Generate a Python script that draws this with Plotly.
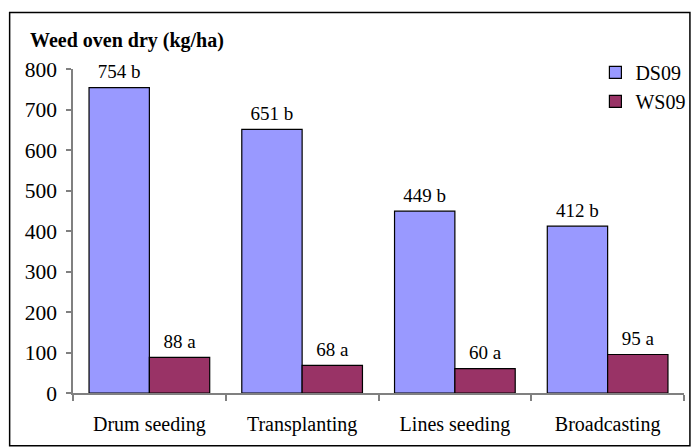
import plotly.graph_objects as go

# Chart data.
methods = ['Drum seeding', 'Transplanting', 'Lines seeding', 'Broadcasting']
ds09 = [754, 651, 449, 412]
ws09 = [88, 68, 60, 95]
ds09_letters = ['b', 'b', 'b', 'b']
ws09_letters = ['a', 'a', 'a', 'a']
y_ticks = [0, 100, 200, 300, 400, 500, 600, 700, 800]

font_family = 'Liberation Serif'

# Define the figure layout.
layout = dict(
    width=697,
    height=447,
    plot_bgcolor='white',
    paper_bgcolor='white',
    margin=dict(t=69, r=7, b=54, l=73, pad=0),
    font=dict(family=font_family, size=20, color='black'),
    barmode='group',
    bargap=0.21,
    bargroupgap=0,
    scattermode='group',
    showlegend=True,
    hovermode=False,
    legend=dict(
        x=0.855,
        y=1.05,
        xanchor='left',
        yanchor='top',
        traceorder='grouped',
        tracegroupgap=0,
        bgcolor='rgba(0,0,0,0)',
        font=dict(family=font_family, size=20, color='black'),
    ),
    xaxis=dict(
        type='category',
        fixedrange=True,
        showline=True,
        linecolor='#808080',
        linewidth=1.5,
        ticks='outside',
        tickson='boundaries',
        ticklen=6,
        tickcolor='#808080',
        tickwidth=1.5,
        ticklabelstandoff=12,
        showgrid=False,
        zeroline=False,
        tickfont=dict(family=font_family, size=20, color='black'),
    ),
    yaxis=dict(
        range=[0, 800],
        fixedrange=True,
        tickvals=y_ticks,
        showline=True,
        linecolor='#808080',
        linewidth=1.5,
        ticks='outside',
        ticklen=5,
        tickcolor='#808080',
        tickwidth=1.5,
        ticklabelstandoff=5,
        showgrid=False,
        zeroline=False,
        tickfont=dict(family=font_family, size=21.5, color='black'),
    ),
    annotations=[
        dict(
            text='<b>Weed oven dry (kg/ha)</b>',
            xref='paper', yref='paper',
            x=-0.0729, y=1.087,
            xanchor='left', yanchor='middle',
            showarrow=False,
            font=dict(family=font_family, size=20, color='black'),
        )
    ],
    shapes=[
        # Outer border of the chart.
        dict(
            type='rect',
            xref='paper', yref='paper',
            x0=-0.1037, x1=1.0097, y0=-0.163, y1=1.174,
            line=dict(color='black', width=1.5),
            fillcolor='rgba(0,0,0,0)',
        )
    ],
)

traces = []

# DS09 bars.
traces.append(
    go.Bar(
        x=methods,
        y=ds09,
        name='DS09',
        legendgroup='ds',
        offsetgroup='ds',
        marker=dict(color='#9999FF', line=dict(color='black', width=1.2)),
    )
)

# WS09 bars.
traces.append(
    go.Bar(
        x=methods,
        y=ws09,
        name='WS09',
        legendgroup='ws',
        offsetgroup='ws',
        marker=dict(color='#993366', line=dict(color='black', width=1.2)),
    )
)

# Value labels above the bars (value plus significance letter).
for values, letters, group in [(ds09, ds09_letters, 'ds'), (ws09, ws09_letters, 'ws')]:
    traces.append(
        go.Scatter(
            x=methods,
            y=values,
            mode='markers+text',
            offsetgroup=group,
            showlegend=False,
            cliponaxis=False,
            marker=dict(size=6, color='rgba(0,0,0,0)'),
            text=[f'{v} {l}' for v, l in zip(values, letters)],
            textposition='top center',
            textfont=dict(family=font_family, size=19, color='black'),
        )
    )

fig = go.Figure(data=traces, layout=layout)
# Drop the default body margin so the figure sits at the top-left corner.
fig.write_html(
    'out.html',
    config={'displayModeBar': False},
    post_script="document.body.style.margin = '0px';",
)
